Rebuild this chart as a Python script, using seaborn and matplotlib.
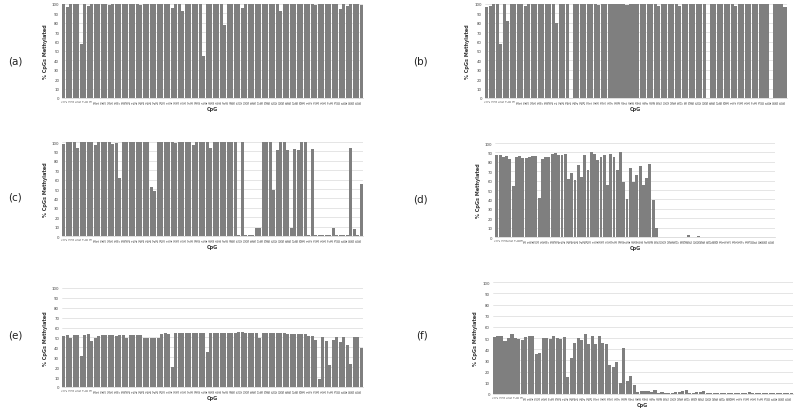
import numpy as np
import pandas as pd
import matplotlib
matplotlib.use("Agg")
import matplotlib.pyplot as plt
import seaborn as sns

# % CpGs methylated per CpG site
panel_a = [100, 97, 100, 100, 100, 57, 100, 98, 100, 100, 100, 100, 100, 99, 100, 100,
           100, 100, 100, 100, 100, 100, 99, 100, 100, 100, 100, 100, 100, 100, 100, 96,
           100, 100, 92, 100, 100, 100, 100, 100, 45, 100, 100, 100, 100, 100, 78, 100,
           100, 100, 100, 96, 100, 100, 100, 100, 100, 100, 100, 100, 100, 100, 92, 100,
           100, 100, 100, 100, 100, 100, 100, 100, 99, 100, 100, 100, 100, 100, 100, 95,
           100, 98, 100, 100, 100, 99]
panel_b = [97, 98, 100, 100, 57, 100, 82, 100, 100, 100, 100, 98, 100, 100, 100, 100,
           100, 100, 100, 100, 80, 100, 100, 100, 0, 100, 100, 100, 100, 100, 100, 100,
           99, 100, 100, 100, 100, 100, 100, 100, 99, 100, 100, 100, 100, 100, 100, 100,
           100, 98, 100, 100, 100, 100, 100, 98, 100, 100, 100, 100, 100, 100, 100, 0,
           100, 100, 100, 100, 100, 100, 100, 98, 100, 100, 100, 100, 100, 100, 100, 100,
           100, 0, 100, 100, 100, 97]
panel_c = [98, 100, 100, 100, 94, 100, 100, 100, 100, 97, 100, 100, 100, 100, 98, 99,
           62, 100, 100, 100, 100, 100, 100, 100, 100, 52, 48, 100, 100, 100, 100, 100,
           99, 100, 100, 100, 100, 97, 100, 100, 100, 100, 94, 100, 100, 100, 100, 100,
           100, 100, 1, 100, 1, 1, 1, 8, 8, 100, 100, 100, 49, 92, 100, 100,
           92, 8, 93, 92, 100, 100, 1, 93, 1, 1, 1, 1, 1, 8, 1, 1,
           1, 1, 94, 7, 1, 55]
panel_d = [87, 87, 85, 86, 83, 54, 85, 86, 84, 84, 85, 86, 86, 42, 83, 85,
           85, 88, 89, 87, 87, 88, 62, 68, 61, 77, 64, 87, 71, 90, 88, 82,
           85, 87, 55, 88, 85, 71, 90, 59, 41, 74, 59, 66, 76, 55, 63, 78,
           39, 10, 0.5, 0.5, 0.5, 0.5, 0.5, 0.5, 0.5, 0.5, 0.5, 2, 0.5, 0.5,
           1.5, 0.5, 0.5, 0.5, 0.5, 0.5, 0.5, 0.5, 0.5, 0.5, 0.5, 0.5, 0.5, 0.5,
           0.5, 0.5, 0.5, 0.5, 0.5, 0.5, 0.5, 0.5, 0.5, 0.5]
panel_e = [51, 52, 49, 52, 52, 31, 52, 53, 46, 49, 51, 52, 52, 52, 52, 51,
           52, 52, 49, 52, 52, 52, 52, 49, 49, 49, 49, 49, 53, 54, 53, 20,
           54, 54, 54, 54, 54, 54, 54, 54, 54, 35, 54, 54, 54, 54, 54, 54,
           54, 54, 55, 56, 54, 54, 54, 54, 49, 54, 54, 54, 54, 54, 54, 54,
           53, 53, 53, 53, 53, 53, 51, 51, 47, 8, 50, 46, 22, 47, 50, 45,
           50, 42, 23, 50, 50, 39]
panel_f = [51, 52, 52, 47, 50, 54, 50, 49, 48, 51, 52, 52, 36, 37, 50, 50,
           49, 52, 50, 49, 51, 15, 32, 46, 50, 48, 54, 45, 52, 45, 52, 46,
           45, 26, 24, 29, 10, 41, 12, 16, 8, 2, 3, 3, 2.5, 2, 3.5, 0.5,
           1.5, 0.5, 0.5, 1, 1.5, 2, 3, 3.5, 1, 0.5, 2, 1.5, 3, 0.5,
           0.5, 0.5, 0.5, 0.5, 0.5, 0.5, 0.5, 0.5, 0.5, 0.5, 0.5, 1.5, 0.5, 0.5,
           0.5, 0.5, 0.5, 0.5, 0.5, 0.5, 0.5, 0.5, 0.5, 0.5]

panel_names = ["(a)", "(b)", "(c)", "(d)", "(e)", "(f)"]
panel_values = [panel_a, panel_b, panel_c, panel_d, panel_e, panel_f]

# axes rectangles in figure fractions
axes_rects = [
    [0.0775, 0.761, 0.376, 0.227],
    [0.606, 0.761, 0.3775, 0.227],
    [0.0775, 0.4275, 0.376, 0.227],
    [0.619, 0.425, 0.35, 0.227],
    [0.0775, 0.063, 0.376, 0.239],
    [0.616, 0.046, 0.375, 0.27],
]
label_pos = [(8, 62), (413, 62), (8, 198), (413, 200), (8, 335), (416, 336)]

sns.set_style("white")
bar_color = "#7f7f7f"

fig = plt.figure(figsize=(8, 4.14), dpi=100)

for name, vals, rect, (lx, ly) in zip(panel_names, panel_values, axes_rects, label_pos):
    ax = fig.add_axes(rect)
    df = pd.DataFrame({"CpG": [str(i + 1) for i in range(len(vals))], "pct": vals})
    sns.barplot(data=df, x="CpG", y="pct", color=bar_color, saturation=1,
                width=0.88, edgecolor="none", ax=ax, zorder=2)
    ax.set_ylim(0, 100)
    ax.set_xlim(-0.5, len(vals) - 0.5)
    ax.set_yticks(np.arange(0, 101, 10))
    ax.yaxis.grid(True, color="#dadada", linewidth=0.5, zorder=0)
    ax.set_axisbelow(True)
    for s in ["top", "right", "left"]:
        ax.spines[s].set_visible(False)
    ax.spines["bottom"].set_color("#d0d0d0")
    ax.spines["bottom"].set_linewidth(0.5)
    ax.tick_params(axis="y", labelsize=2.8, colors="#444444", length=0, pad=2)
    ax.tick_params(axis="x", labelsize=2.2, colors="#444444", length=0, pad=1,
                   labelrotation=90)
    ax.set_ylabel("% CpGs Methylated", fontsize=3.6, fontweight="bold",
                  color="#333333", labelpad=3)
    ax.set_xlabel("CpG", fontsize=3.6, fontweight="bold", color="#333333", labelpad=2)
    fig.text(lx / 800, 1 - ly / 414, name, fontsize=7.5, color="#222222",
             va="center", ha="left")

fig.savefig("out.png", dpi=100, facecolor="white")
